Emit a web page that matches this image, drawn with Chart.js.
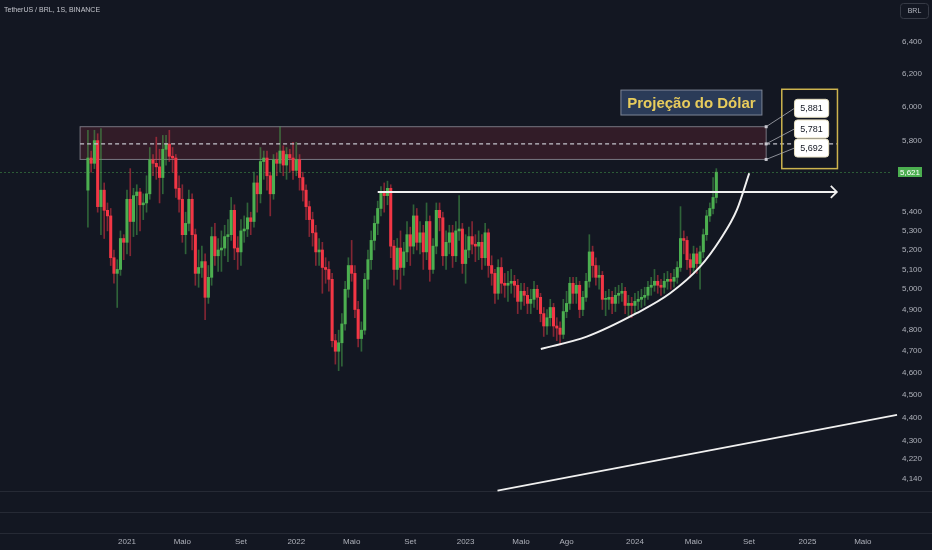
<!DOCTYPE html>
<html>
<head>
<meta charset="utf-8">
<script src="https://cdn.jsdelivr.net/npm/chart.js@4.4.1/dist/chart.umd.min.js"></script>
<style>
  html, body { margin: 0; padding: 0; background: #131722; }
  canvas { display: block; }
</style>
</head>
<body>
<canvas id="chart" width="932" height="550"></canvas>
<script>
// weekly USDT/BRL candles, index 0 = week of 12 Oct 2020; open = previous close
const firstOpen = 5.52;
const closes = [
  5.70, 5.67, 5.80, 5.43, 5.52, 5.41, 5.38, 5.16, 5.08, 5.10,
  5.26, 5.24, 5.47, 5.35, 5.49, 5.51, 5.44, 5.45, 5.50, 5.69,
  5.67, 5.65, 5.59, 5.75, 5.78, 5.71, 5.70, 5.53, 5.47, 5.28,
  5.34, 5.47, 5.28, 5.08, 5.11, 5.14, 4.96, 5.06, 5.27, 5.17,
  5.20, 5.21, 5.27, 5.28, 5.41, 5.21, 5.19, 5.30, 5.31, 5.37,
  5.35, 5.56, 5.50, 5.68, 5.70, 5.60, 5.50, 5.69, 5.67, 5.74,
  5.66, 5.72, 5.70, 5.63, 5.69, 5.59, 5.52, 5.43, 5.36, 5.29,
  5.19, 5.20, 5.11, 5.10, 5.05, 4.75, 4.70, 4.74, 4.83, 5.00,
  5.12, 5.08, 4.90, 4.76, 4.80, 5.05, 5.15, 5.25, 5.34, 5.42,
  5.51, 5.49, 5.53, 5.22, 5.10, 5.21, 5.11, 5.19, 5.28, 5.22,
  5.38, 5.24, 5.29, 5.19, 5.35, 5.10, 5.22, 5.41, 5.37, 5.17,
  5.24, 5.29, 5.17, 5.30, 5.31, 5.13, 5.20, 5.27, 5.23, 5.22,
  5.24, 5.16, 5.29, 5.12, 5.08, 4.98, 5.11, 5.03, 5.02, 5.03,
  5.04, 5.02, 4.94, 4.99, 4.97, 4.93, 4.95, 5.00, 4.96, 4.88,
  4.82, 4.86, 4.91, 4.82, 4.81, 4.78, 4.89, 4.93, 5.03, 4.98,
  5.02, 4.90, 4.96, 5.04, 5.19, 5.12, 5.06, 5.07, 4.95, 4.95,
  4.96, 4.93, 4.97, 4.98, 4.99, 4.92, 4.93, 4.92, 4.94, 4.95,
  4.96, 4.97, 5.01, 5.02, 5.04, 5.02, 5.01, 5.04, 5.05, 5.04,
  5.06, 5.11, 5.26, 5.25, 5.15, 5.11, 5.18, 5.13, 5.19, 5.28,
  5.38, 5.42, 5.48, 5.62
];
const highs = [
  5.86, 5.74, 5.86, 5.84, 5.87, 5.56, 5.45, 5.42, 5.20, 5.15,
  5.30, 5.28, 5.52, 5.64, 5.53, 5.55, 5.53, 5.50, 5.60, 5.76,
  5.72, 5.82, 5.75, 5.83, 5.83, 5.86, 5.76, 5.72, 5.60, 5.55,
  5.40, 5.52, 5.50, 5.31, 5.20, 5.22, 5.18, 5.12, 5.32, 5.34,
  5.26, 5.30, 5.33, 5.36, 5.48, 5.44, 5.27, 5.36, 5.38, 5.45,
  5.40, 5.62, 5.60, 5.76, 5.74, 5.74, 5.62, 5.72, 5.73, 5.88,
  5.77, 5.76, 5.75, 5.79, 5.79, 5.72, 5.62, 5.55, 5.46, 5.40,
  5.33, 5.26, 5.24, 5.16, 5.14, 5.08, 4.78, 4.80, 4.88, 5.04,
  5.16, 5.25, 5.12, 4.94, 4.84, 5.08, 5.20, 5.30, 5.38, 5.46,
  5.54, 5.56, 5.57, 5.55, 5.25, 5.26, 5.30, 5.24, 5.35, 5.32,
  5.44, 5.42, 5.35, 5.33, 5.45, 5.38, 5.26, 5.45, 5.45, 5.40,
  5.30, 5.33, 5.33, 5.35, 5.49, 5.34, 5.28, 5.32, 5.35, 5.28,
  5.30, 5.28, 5.34, 5.31, 5.17, 5.10, 5.15, 5.16, 5.08, 5.09,
  5.10, 5.07, 5.05, 5.03, 5.03, 5.01, 5.00, 5.04, 5.02, 4.98,
  4.91, 4.90, 4.95, 4.93, 4.86, 4.84, 4.95, 4.99, 5.06, 5.06,
  5.06, 5.04, 4.99, 5.08, 5.28, 5.22, 5.16, 5.12, 5.09, 4.99,
  5.00, 4.99, 5.01, 5.02, 5.03, 5.01, 4.97, 4.96, 4.98, 4.99,
  5.00, 5.01, 5.04, 5.06, 5.10, 5.07, 5.05, 5.08, 5.09, 5.08,
  5.10, 5.14, 5.43, 5.30, 5.27, 5.18, 5.22, 5.21, 5.22, 5.31,
  5.41, 5.45, 5.59, 5.64
];
const lows = [
  5.32, 5.62, 5.64, 5.40, 5.28, 5.26, 5.30, 5.12, 5.03, 4.91,
  5.07, 5.15, 5.18, 5.17, 5.27, 5.28, 5.30, 5.36, 5.40, 5.47,
  5.60, 5.58, 5.45, 5.50, 5.66, 5.68, 5.62, 5.48, 5.40, 5.24,
  5.18, 5.30, 5.20, 5.02, 5.01, 5.06, 4.85, 4.93, 5.02, 5.12,
  5.09, 5.09, 5.17, 5.14, 5.25, 5.15, 5.10, 5.12, 5.24, 5.27,
  5.28, 5.32, 5.40, 5.45, 5.58, 5.52, 5.38, 5.47, 5.60, 5.62,
  5.60, 5.58, 5.62, 5.58, 5.60, 5.52, 5.46, 5.36, 5.27, 5.22,
  5.12, 5.12, 4.98, 5.03, 4.99, 4.72, 4.64, 4.61, 4.63, 4.80,
  4.96, 5.04, 4.86, 4.72, 4.70, 4.78, 5.00, 5.10, 5.20, 5.28,
  5.38, 5.40, 5.44, 5.16, 5.02, 5.05, 5.00, 5.07, 5.14, 5.12,
  5.18, 5.20, 5.18, 5.10, 5.15, 5.04, 5.08, 5.18, 5.30, 5.12,
  5.10, 5.18, 5.11, 5.14, 5.25, 5.08, 5.03, 5.16, 5.18, 5.14,
  5.15, 5.10, 5.12, 5.06, 5.02, 4.93, 4.95, 4.98, 4.96, 4.94,
  4.98, 4.96, 4.88, 4.90, 4.92, 4.88, 4.88, 4.91, 4.90, 4.84,
  4.77, 4.78, 4.82, 4.77, 4.75, 4.73, 4.76, 4.86, 4.90, 4.93,
  4.93, 4.86, 4.87, 4.94, 5.01, 5.06, 5.02, 5.00, 4.90, 4.87,
  4.90, 4.88, 4.89, 4.93, 4.94, 4.88, 4.87, 4.86, 4.88, 4.90,
  4.91, 4.92, 4.95, 4.97, 4.99, 4.98, 4.97, 4.98, 5.00, 5.00,
  5.01, 5.03, 5.09, 5.18, 5.10, 5.06, 5.08, 5.08, 5.00, 5.16,
  5.25, 5.35, 5.39, 5.45
];

// drawn studies (week index, price)
const resistanceLine = [{ x: 89.0, y: 5.51 }, { x: 230.0, y: 5.51 }];
const roundingCurve = [
  { x: 139.1, y: 4.711 }, { x: 153.2, y: 4.769 }, { x: 168.5, y: 4.882 },
  { x: 178.8, y: 4.980 }, { x: 188.0, y: 5.114 }, { x: 194.1, y: 5.252 },
  { x: 199.3, y: 5.412 }, { x: 203.1, y: 5.614 }
];
const longTrend = [{ x: 125.8, y: 4.09 }, { x: 248.5, y: 4.411 }];
const zoneLevels = [5.881, 5.781, 5.692];
const lastPrice = 5.621;

const yTicks = [6.4, 6.2, 6.0, 5.8, 5.4, 5.3, 5.2, 5.1, 5.0, 4.9, 4.8, 4.7, 4.6, 4.5, 4.4, 4.3, 4.22, 4.14];
const xTickWeeks = [12, 29, 47, 64, 81, 99, 116, 133, 147, 168, 186, 203, 221, 238];
const xTickLabels = ['2021', 'Maio', 'Set', '2022', 'Maio', 'Set', '2023', 'Maio', 'Ago', '2024', 'Maio', 'Set', '2025', 'Maio'];

const UP = '#4caf50', DOWN = '#f23645';
const UP_WICK = 'rgba(76,175,80,0.5)', DOWN_WICK = 'rgba(242,54,69,0.5)';
const FONT = '"Liberation Sans", Arial, sans-serif';

const opens = closes.map((c, i) => i === 0 ? firstOpen : closes[i - 1]);
const isUp = closes.map((c, i) => c >= opens[i]);
const fmt = v => v.toFixed(3).replace('.', ',');

const overlay = {
    id: 'overlay',
    beforeDraw(chart) {
        const c = chart.ctx, a = chart.chartArea;
        c.save();
        c.fillStyle = '#131722';
        c.fillRect(0, 0, chart.width, chart.height);
        c.strokeStyle = '#262a35';
        c.lineWidth = 1;
        [0, 21, 42].forEach(off => {
            c.beginPath();
            c.moveTo(0, a.bottom + off + 0.5);
            c.lineTo(chart.width, a.bottom + off + 0.5);
            c.stroke();
        });
        c.restore();
    },
    beforeDatasetsDraw(chart) {
        const c = chart.ctx, xs = chart.scales.x, ys = chart.scales.y, a = chart.chartArea;
        c.save();
        // price line
        c.strokeStyle = 'rgba(76,175,80,0.45)';
        c.setLineDash([2, 2]);
        c.lineWidth = 1;
        const py = Math.round(ys.getPixelForValue(lastPrice)) + 0.5;
        c.beginPath(); c.moveTo(0, py); c.lineTo(a.right, py); c.stroke();
        c.setLineDash([]);

        // zone
        const x0 = xs.getPixelForValue(-2.4), x1 = xs.getPixelForValue(208.3);
        const yt = ys.getPixelForValue(zoneLevels[0]), yb = ys.getPixelForValue(zoneLevels[2]);
        c.fillStyle = 'rgba(123,39,55,0.3)';
        c.fillRect(x0, yt, x1 - x0, yb - yt);
        c.strokeStyle = 'rgba(150,150,160,0.75)';
        c.strokeRect(x0, yt, x1 - x0, yb - yt);
        c.restore();
    },
    afterDatasetsDraw(chart) {
        const c = chart.ctx, xs = chart.scales.x, ys = chart.scales.y, a = chart.chartArea;
        const X = v => xs.getPixelForValue(v), Y = v => ys.getPixelForValue(v);
        c.save();

        // zone mid dashed line
        c.strokeStyle = '#c4c4cc';
        c.lineWidth = 1.3;
        c.setLineDash([4, 3]);
        c.beginPath(); c.moveTo(X(-2.4), Y(zoneLevels[1])); c.lineTo(X(230), Y(zoneLevels[1])); c.stroke();
        c.setLineDash([]);

        // arrowhead on resistance line
        const tx = X(resistanceLine[1].x), ty = Y(resistanceLine[1].y);
        c.strokeStyle = '#f0f0f0';
        c.lineWidth = 1.8;
        c.beginPath();
        c.moveTo(tx - 6, ty - 6); c.lineTo(tx, ty); c.lineTo(tx - 6, ty + 6);
        c.stroke();

        // label frame
        const fx0 = X(213.1), fx1 = X(230.2), fy0 = Y(6.105), fy1 = Y(5.640);
        c.strokeStyle = '#cdb44e';
        c.lineWidth = 1.5;
        c.strokeRect(fx0, fy0, fx1 - fx0, fy1 - fy0);

        // connectors and level tags
        const tagY = [5.990, 5.868, 5.757];
        const lx0 = X(217.0), lx1 = X(227.5);
        zoneLevels.forEach((lv, k) => {
            const sx = X(208.3), sy = Y(lv), ey = Y(tagY[k]);
            c.strokeStyle = 'rgba(170,172,180,0.8)';
            c.lineWidth = 1;
            c.beginPath(); c.moveTo(sx, sy); c.lineTo(lx0, ey); c.stroke();
            c.fillStyle = '#c8c8d0';
            c.fillRect(sx - 1.5, sy - 1.5, 3, 3);
            c.fillStyle = '#ffffff';
            c.beginPath();
            c.roundRect(lx0, ey - 9, lx1 - lx0, 18, 3);
            c.fill();
            c.strokeStyle = '#e8e0c0';
            c.stroke();
            c.fillStyle = '#131722';
            c.font = '9px ' + FONT;
            c.textAlign = 'center';
            c.textBaseline = 'middle';
            c.fillText(fmt(lv), (lx0 + lx1) / 2, ey + 0.5);
        });

        // title box
        const bx0 = X(163.7), bx1 = X(207.0), by0 = Y(6.100), by1 = Y(5.950);
        c.fillStyle = '#2b3b58';
        c.fillRect(bx0, by0, bx1 - bx0, by1 - by0);
        c.strokeStyle = '#7d8597';
        c.lineWidth = 1;
        c.strokeRect(bx0, by0, bx1 - bx0, by1 - by0);
        c.fillStyle = '#e8cc5c';
        c.font = 'bold 15px ' + FONT;
        c.textAlign = 'center';
        c.textBaseline = 'middle';
        c.fillText('Projeção do Dólar', (bx0 + bx1) / 2, (by0 + by1) / 2 + 1);

        // last price tag
        const py = ys.getPixelForValue(lastPrice);
        c.fillStyle = '#4caf50';
        c.fillRect(a.right + 6, py - 5, 24, 10);
        c.fillStyle = '#ffffff';
        c.font = '8px ' + FONT;
        c.fillText(fmt(lastPrice), a.right + 18, py + 0.5);

        // header
        c.fillStyle = '#c3c5cc';
        c.font = '7px ' + FONT;
        c.textAlign = 'left';
        c.fillText('TetherUS / BRL, 1S, BINANCE', 4, 10);

        c.strokeStyle = '#363a45';
        c.beginPath(); c.roundRect(900.5, 3.5, 28, 15, 3); c.stroke();
        c.fillStyle = '#b2b5be';
        c.font = '7px ' + FONT;
        c.textAlign = 'center';
        c.fillText('BRL', 914.5, 11);
        c.restore();
    }
};

new Chart(document.getElementById('chart').getContext('2d'), {
    type: 'bar',
    data: {
        datasets: [
            {
                type: 'line',
                data: resistanceLine,
                borderColor: '#f0f0f0',
                borderWidth: 2,
                pointRadius: 0,
                order: 0
            },
            {
                type: 'line',
                data: roundingCurve,
                borderColor: '#f0f0f0',
                borderWidth: 2,
                pointRadius: 0,
                cubicInterpolationMode: 'monotone',
                order: 0
            },
            {
                type: 'line',
                data: longTrend,
                borderColor: '#f0f0f0',
                borderWidth: 1.8,
                pointRadius: 0,
                clip: false,
                order: 0
            },
            {
                data: closes.map((c, i) => ({ x: i, y: [opens[i], c] })),
                backgroundColor: isUp.map(u => u ? UP : DOWN),
                barThickness: 2.4,
                minBarLength: 1,
                grouped: false,
                order: 1
            },
            {
                data: closes.map((c, i) => ({ x: i, y: [lows[i], highs[i]] })),
                backgroundColor: isUp.map(u => u ? UP_WICK : DOWN_WICK),
                barThickness: 1,
                grouped: false,
                order: 2
            }
        ]
    },
    options: {
        responsive: false,
        devicePixelRatio: 1,
        animation: false,
        events: [],
        layout: { padding: 0, autoPadding: false },
        plugins: { legend: { display: false }, tooltip: { enabled: false } },
        scales: {
            x: {
                type: 'linear',
                min: -27.0,
                max: 246.95,
                offset: false,
                grid: { display: false, drawTicks: false },
                border: { display: false },
                afterBuildTicks: s => { s.ticks = xTickWeeks.map(v => ({ value: v })); },
                afterFit: s => { s.height = 59; s.paddingLeft = 0; s.paddingRight = 0; },
                ticks: {
                    autoSkip: false,
                    maxRotation: 0,
                    padding: 46,
                    color: '#aeb1ba',
                    font: { size: 8, family: FONT },
                    callback: v => xTickLabels[xTickWeeks.indexOf(v)]
                }
            },
            y: {
                type: 'logarithmic',
                position: 'right',
                min: 4.088,
                max: 6.674,
                grid: { display: false, drawTicks: false },
                border: { display: false },
                afterBuildTicks: s => { s.ticks = yTicks.map(v => ({ value: v })); },
                afterFit: s => { s.width = 40; s.paddingTop = 0; s.paddingBottom = 0; },
                ticks: {
                    autoSkip: false,
                    padding: 10,
                    color: '#aeb1ba',
                    font: { size: 8, family: FONT },
                    callback: v => fmt(v)
                }
            }
        }
    },
    plugins: [overlay]
});
</script>
</body>
</html>
